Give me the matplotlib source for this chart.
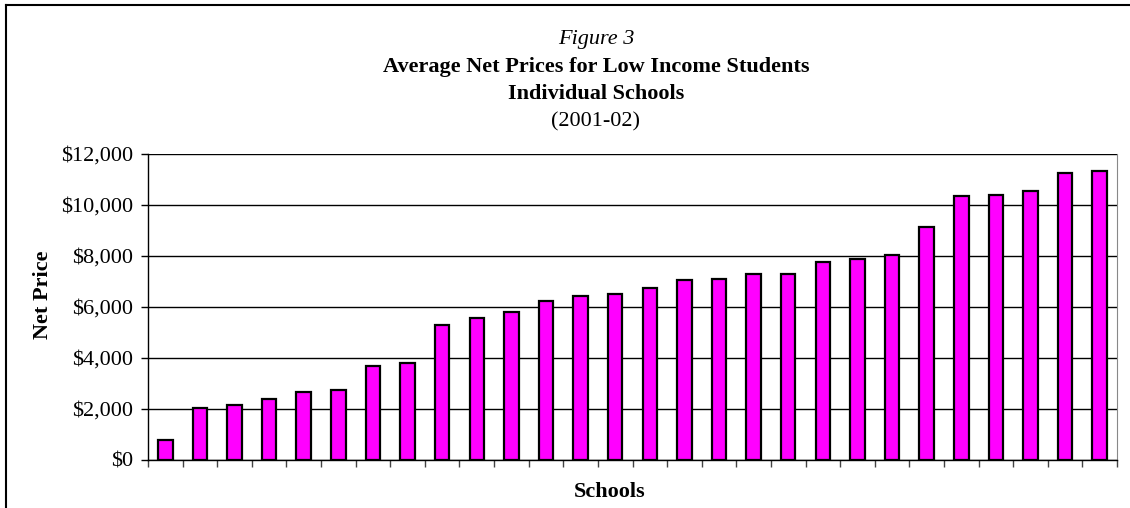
import matplotlib
matplotlib.use("Agg")
import matplotlib.pyplot as plt
import numpy as np
from matplotlib.ticker import FuncFormatter

# average net price per school, sorted ascending
net_prices = [800, 2050, 2150, 2400, 2650, 2750, 3700, 3800, 5300, 5550,
              5800, 6250, 6450, 6500, 6750, 7050, 7100, 7300, 7300, 7750,
              7900, 8050, 9150, 10350, 10400, 10550, 11250, 11350]
y_ticks = [0, 2000, 4000, 6000, 8000, 10000, 12000]
title_lines = ["Figure 3",
               "Average Net Prices for Low Income Students",
               "Individual Schools",
               "(2001-02)"]

plt.rcParams["font.family"] = ["Liberation Serif", "DejaVu Serif"]
FS = 16

fig = plt.figure(figsize=(11.3, 5.08), dpi=100)
ax = fig.add_axes([148 / 1130, 48 / 508, 969 / 1130, 306 / 508])

x = np.arange(len(net_prices))
ax.bar(x, net_prices, width=0.42, color="#FF00FF", edgecolor="black",
       linewidth=1.6, zorder=3)

ax.set_xlim(-0.5, len(net_prices) - 0.5)
ax.set_ylim(0, 12000)
ax.set_yticks(y_ticks)
ax.yaxis.set_major_formatter(FuncFormatter(lambda v, _: f"${v:,.0f}"))
ax.set_xticks(np.arange(-0.5, len(net_prices), 1.0))
ax.set_xticklabels([])
ax.tick_params(axis="x", length=5, width=1, color="#444444", direction="out")
ax.tick_params(axis="y", length=5, width=1, direction="out", labelsize=FS, pad=6)

ax.grid(axis="y", color="black", linewidth=1, zorder=0)
ax.spines["top"].set_visible(False)
ax.spines["right"].set_color("#888888")
ax.spines["right"].set_linewidth(0.8)
ax.spines["left"].set_linewidth(1)
ax.spines["bottom"].set_linewidth(1)

fig.text(43 / 1130, 1 - 295 / 508, "Net Price", rotation=90, ha="center",
         va="center", fontsize=FS, fontweight="bold")
fig.text(610 / 1130, 1 - 497 / 508, "Schools", ha="center", va="baseline",
         fontsize=FS, fontweight="bold")

# title block, one line each (baseline positions in px from top)
title_base = [44, 72, 99, 126]
for i, (line, ty) in enumerate(zip(title_lines, title_base)):
    style = "italic" if i == 0 else "normal"
    weight = "bold" if i in (1, 2) else "normal"
    fig.text(596 / 1130, 1 - ty / 508, line, ha="center", va="baseline",
             fontsize=FS, fontstyle=style, fontweight=weight)

# outer frame (only top and left edges visible)
fig.add_artist(plt.Line2D([6 / 1130, 6 / 1130], [0, 1 - 4.5 / 508],
                          transform=fig.transFigure, color="black", linewidth=1.5))
fig.add_artist(plt.Line2D([6 / 1130, 1], [1 - 4.5 / 508, 1 - 4.5 / 508],
                          transform=fig.transFigure, color="black", linewidth=1.5))

fig.savefig("out.png", dpi=100)
